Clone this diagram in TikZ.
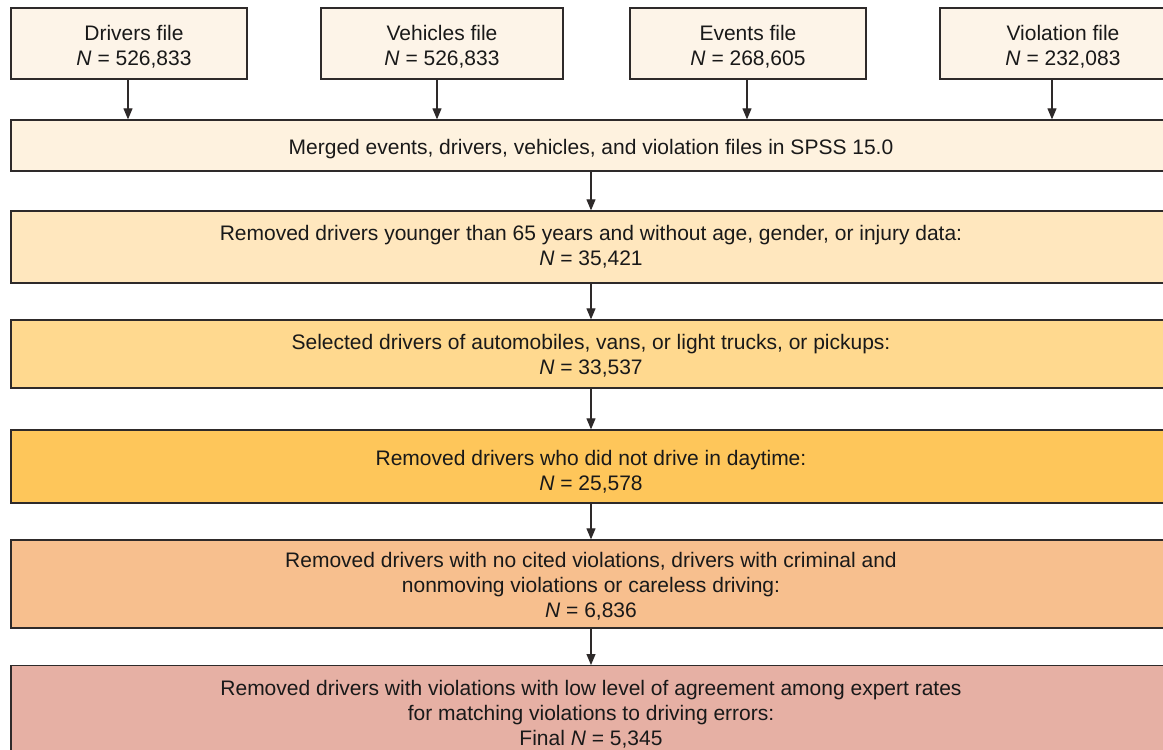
\documentclass[tikz,border=0pt]{standalone}
\usepackage{fontspec}
\setmainfont{Liberation Sans}
\usetikzlibrary{arrows.meta}
\definecolor{cTop}{HTML}{FDF4E8}
\definecolor{cMerge}{HTML}{FEF2DF}
\definecolor{cB2}{HTML}{FFE7BE}
\definecolor{cB3}{HTML}{FFD98F}
\definecolor{cB4}{HTML}{FEC65A}
\definecolor{cB5}{HTML}{F7BF8E}
\definecolor{cB6}{HTML}{E6B0A4}
\definecolor{cLine}{HTML}{2E2A2A}
\tikzset{
  box/.style={draw=cLine, line width=1.3pt, rectangle, inner sep=0pt},
  lbl/.style={align=center, inner sep=0pt, font=\fontsize{21}{25}\selectfont, text=black!90},
  topbox/.style={box, fill=cTop, minimum height=71pt},
  widebox/.style={box, minimum width=1160pt},
  arr/.style={-{Triangle[length=11pt,width=9pt]}, line width=1.1pt, draw=cLine},
}
\begin{document}
\begin{tikzpicture}[x=1pt,y=-1pt]
\useasboundingbox (0,0) rectangle (1163,750);
\clip (0,0) rectangle (1163,750);
\fill[white] (0,0) rectangle (1163,750);
\node[topbox, minimum width=236pt, label={[lbl,yshift=-3pt,xshift=5pt]center:{Drivers file\\\textit{N} = 526,833}}] (drv) at (129,43.5) {};
\node[topbox, minimum width=242pt, label={[lbl,yshift=-3pt]center:{Vehicles file\\\textit{N} = 526,833}}] (veh) at (442,43.5) {};
\node[topbox, minimum width=236pt, label={[lbl,yshift=-3pt]center:{Events file\\\textit{N} = 268,605}}] (evt) at (748,43.5) {};
\node[topbox, minimum width=246pt, label={[lbl,yshift=-3pt]center:{Violation file\\\textit{N} = 232,083}}] (vio) at (1063,43.5) {};
\node[widebox, fill=cMerge, minimum height=51pt, label={[lbl,yshift=-4pt]center:{Merged events, drivers, vehicles, and violation files in SPSS 15.0}}] (mrg) at (591,145.5) {};
\node[widebox, fill=cB2, minimum height=72pt, label={[lbl,yshift=0pt]center:{Removed drivers younger than 65 years and without age, gender, or injury data:\\\textit{N} = 35,421}}] (b2) at (591,247) {};
\node[widebox, fill=cB3, minimum height=68pt, label={[lbl,yshift=-2pt]center:{Selected drivers of automobiles, vans, or light trucks, or pickups:\\\textit{N} = 33,537}}] (b3) at (591,354) {};
\node[widebox, fill=cB4, minimum height=73pt, label={[lbl,yshift=-5pt]center:{Removed drivers who did not drive in daytime:\\\textit{N} = 25,578}}] (b4) at (591,466.5) {};
\node[widebox, fill=cB5, minimum height=88pt, label={[lbl,yshift=-2pt]center:{Removed drivers with no cited violations, drivers with criminal and\\nonmoving violations or careless driving:\\\textit{N} = 6,836}}] (b5) at (591,584) {};
\node[widebox, fill=cB6, minimum height=100pt, anchor=north, label={[lbl,yshift=1pt]center:{Removed drivers with violations with low level of agreement among expert rates\\for matching violations to driving errors:\\Final \textit{N} = 5,345}}] (b6) at (591,665) {};
\draw[arr] ([xshift=-1pt]drv.south) -- ([xshift=-1pt]drv.south |- mrg.north);
\draw[arr] ([xshift=-5pt]veh.south) -- ([xshift=-5pt]veh.south |- mrg.north);
\draw[arr] ([xshift=-1pt]evt.south) -- ([xshift=-1pt]evt.south |- mrg.north);
\draw[arr] ([xshift=-11pt]vio.south) -- ([xshift=-11pt]vio.south |- mrg.north);
\draw[arr] (mrg.south) -- (b2.north);
\draw[arr] (b2.south) -- (b3.north);
\draw[arr] (b3.south) -- (b4.north);
\draw[arr] (b4.south) -- (b5.north);
\draw[arr] (b5.south) -- (b6.north);
\end{tikzpicture}
\end{document}
